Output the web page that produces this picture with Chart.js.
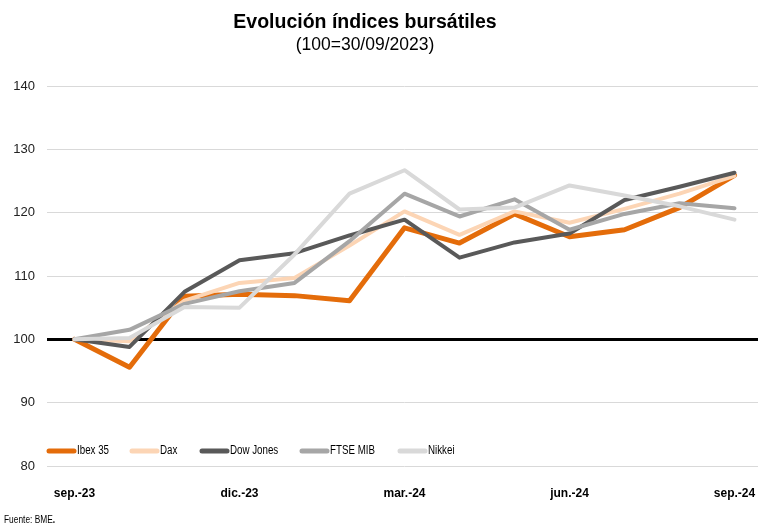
<!DOCTYPE html>
<html>
<head>
<meta charset="utf-8">
<script src="https://cdn.jsdelivr.net/npm/chart.js@4"></script>
<style>
  body { margin: 0; background: #fff; }
  #wrap { position: relative; width: 758px; height: 526px; overflow: hidden; font-family: "Liberation Sans", Arial, sans-serif; }
  #title { position: absolute; left: 0; width: 730px; top: 10px; text-align: center; font-weight: bold; font-size: 19.5px; color: #000; }
  #subtitle { position: absolute; left: 0; width: 730px; top: 34px; text-align: center; font-size: 17.5px; color: #000; }
  #source { position: absolute; left: 4px; top: 513px; font-size: 11px; color: #000; transform: scaleX(0.76); transform-origin: left top; }
  canvas { position: absolute; left: 0; top: 0; }
</style>
</head>
<body>
<div id="wrap">
  <!-- the plot runs a few px past the right edge, as in the original -->
  <canvas id="lineChart" width="762" height="526"></canvas>
  <div id="title">Evolución índices bursátiles</div>
  <div id="subtitle">(100=30/09/2023)</div>
  <div id="source">Fuente: BME<b>.</b></div>
</div>
<script>
// months, base 100 = 30/09/2023
const months = ["sep.-23", "oct.-23", "nov.-23", "dic.-23", "ene.-24", "feb.-24", "mar.-24",
  "abr.-24", "may.-24", "jun.-24", "jul.-24", "ago.-24", "sep.-24"];
const ibex35 = [100, 95.6, 106.8, 107.1, 106.9, 106.1, 117.6, 115.2, 119.8, 116.2, 117.3, 120.8, 125.9];
const dax = [100, 99.7, 106.1, 108.9, 109.7, 114.8, 120.2, 116.5, 120.2, 118.4, 120.6, 123.0, 125.8];
const dowJones = [100, 98.8, 107.5, 112.5, 113.6, 116.4, 118.9, 112.9, 115.3, 116.7, 122.0, 124.1, 126.3];
const ftseMib = [100, 101.5, 105.6, 107.6, 108.9, 115.5, 123.0, 119.4, 122.1, 117.3, 119.8, 121.5, 120.7];
const nikkei = [100, 100.2, 105.1, 105.0, 113.4, 123.0, 126.7, 120.5, 120.8, 124.3, 122.7, 121.0, 118.9];
const yTicks = [80, 90, 100, 110, 120, 130, 140];

const sans = "'Liberation Sans', Arial, sans-serif";

// legend drawn inside the plot, just above the 80 line (text squeezed to look like a narrow face)
const insideLegend = {
  id: "insideLegend",
  afterDraw(chart) {
    const ctx = chart.ctx;
    const xs = [47, 130, 200, 300, 398];
    const y = 451;
    ctx.save();
    ctx.font = "12.5px " + sans;
    ctx.textBaseline = "middle";
    chart.data.datasets.forEach((ds, i) => {
      ctx.strokeStyle = ds.borderColor;
      ctx.lineWidth = 5;
      ctx.lineCap = "round";
      ctx.beginPath();
      ctx.moveTo(xs[i] + 2, y);
      ctx.lineTo(xs[i] + 27, y);
      ctx.stroke();
      ctx.save();
      ctx.translate(xs[i] + 30, y);
      ctx.scale(0.78, 1);
      ctx.fillStyle = "#000";
      ctx.fillText(ds.label, 0, 0);
      ctx.restore();
    });
    ctx.restore();
  }
};

const ctx = document.getElementById("lineChart").getContext("2d");
new Chart(ctx, {
  type: "line",
  data: {
    labels: months,
    datasets: [
      { label: "Ibex 35", data: ibex35, borderColor: "#e46c0a", borderWidth: 5, order: 4 },
      { label: "Dax", data: dax, borderColor: "#fcd5b5", borderWidth: 4, order: 3 },
      { label: "Dow Jones", data: dowJones, borderColor: "#595959", borderWidth: 4, order: 2 },
      { label: "FTSE MIB", data: ftseMib, borderColor: "#a6a6a6", borderWidth: 4, order: 1 },
      { label: "Nikkei", data: nikkei, borderColor: "#d9d9d9", borderWidth: 4, order: 0 }
    ]
  },
  options: {
    responsive: false,
    animation: false,
    layout: { padding: { top: 86, left: 0, right: 0, bottom: 0 } },
    elements: {
      point: { radius: 0 },
      line: { tension: 0, borderJoinStyle: "round", borderCapStyle: "round", fill: false }
    },
    plugins: {
      legend: { display: false },
      title: { display: false },
      tooltip: { enabled: false }
    },
    scales: {
      x: {
        offset: true,
        grid: { display: false },
        border: { display: false },
        afterFit: (scale) => {
          scale.height = 60;
          scale.paddingLeft = 0;
          scale.paddingRight = 0;
        },
        ticks: {
          autoSkip: false,
          maxRotation: 0,
          padding: 12,
          color: "#000",
          font: { family: sans, size: 12, weight: "bold" },
          callback: function (val, i) { return i % 3 === 0 ? months[i] : ""; }
        }
      },
      y: {
        min: 80,
        max: 140,
        afterFit: (scale) => { scale.width = 47; },
        afterBuildTicks: (scale) => { scale.ticks = yTicks.map(v => ({ value: v })); },
        border: { display: false },
        grid: {
          drawTicks: false,
          color: (c) => c.tick && c.tick.value === 100 ? "#000" : "#d9d9d9",
          lineWidth: (c) => c.tick && c.tick.value === 100 ? 3 : 1
        },
        ticks: {
          padding: 12,
          color: "#222",
          font: { family: sans, size: 13 }
        }
      }
    }
  },
  plugins: [insideLegend]
});
</script>
</body>
</html>
